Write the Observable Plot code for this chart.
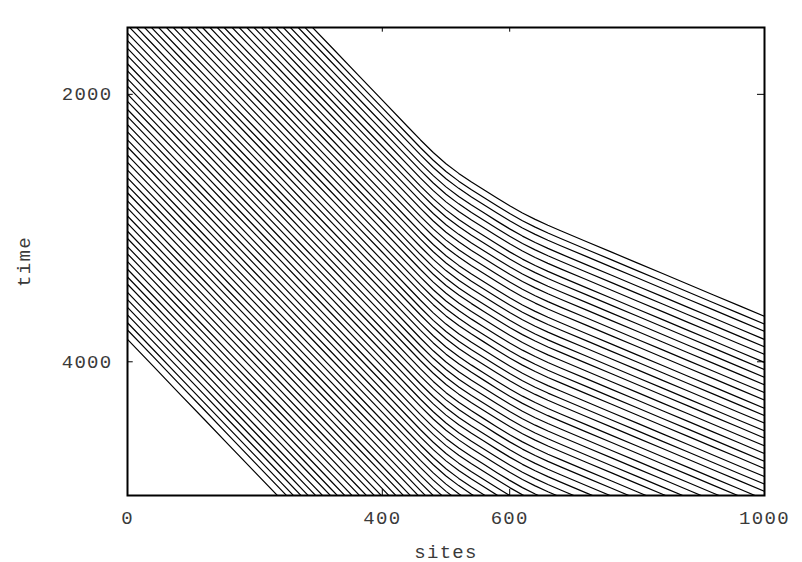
<!DOCTYPE html>
<html>
<head>
<meta charset="utf-8">
<script src="https://cdn.jsdelivr.net/npm/d3@7"></script>
<script src="https://cdn.jsdelivr.net/npm/@observablehq/plot@0.6"></script>
<style>
  html, body { margin: 0; padding: 0; background: #fff; }
  #chart { width: 802px; height: 562px; }
</style>
</head>
<body>
<div id="chart"></div>
<script>
// Leading world line (sites vs time), read from the upper-right edge of the bundle
const leadSites = [0, 40, 80, 120, 160, 200, 240, 280, 320, 360, 400, 440, 460, 480, 500, 520, 540, 560, 580, 600, 620, 640, 660, 680, 720, 760, 800, 840, 880, 920, 960, 1000];
const leadTimes = [59, 257, 456, 654, 853, 1051, 1249, 1448, 1646, 1845, 2043, 2242, 2341, 2435, 2519, 2591, 2655, 2715, 2775, 2833, 2887, 2935, 2979, 3020, 3100, 3180, 3260, 3340, 3420, 3500, 3580, 3660];
// Time lag of each following particle behind the leading one
const lineOffsets = [0, 58, 112, 173, 228, 285, 345, 398, 456, 512, 571, 626, 688, 742, 799, 857, 910, 969, 1026, 1084, 1138, 1199, 1255, 1309, 1370, 1424, 1483, 1539, 1597, 1651, 1712, 1766, 1825, 1880, 1939, 1993, 2054, 2108, 2167, 2222, 2281, 2335, 2396, 2450, 2508, 2565, 2623, 2677, 2738, 2792, 2851, 2906, 2965, 3019, 3080, 3134, 3192, 3249, 3307, 3361, 3422, 3476, 3534, 3590, 3649, 3703, 3774];
const xTickValues = [0, 400, 600, 1000];
const yTickValues = [2000, 4000];

const rows = lineOffsets.flatMap((off, i) =>
  leadSites.map((s, j) => ({line: i, site: s, time: leadTimes[j] + off}))
);

const chart = Plot.plot({
  width: 802,
  height: 562,
  marginLeft: 127,
  marginRight: 38,
  marginTop: 27,
  marginBottom: 67,
  x: {domain: [0, 1000]},
  y: {domain: [1500, 5000], reverse: true},
  style: {fontFamily: "'Liberation Mono', 'DejaVu Sans Mono', monospace", fontSize: "19px", color: "#3a3a3a", background: "#fff", letterSpacing: "1.3px"},
  marks: [
    Plot.line(rows, {x: "site", y: "time", z: "line", stroke: "#000", strokeWidth: 1.2, clip: true}),
    Plot.frame({stroke: "#000", strokeWidth: 2}),
    Plot.ruleX([400, 600], {x: d => d, y1: 1500, y2: 1535, stroke: "#000"}),
    Plot.ruleX([400, 600], {x: d => d, y1: 5000, y2: 4955, stroke: "#000"}),
    Plot.ruleY(yTickValues, {y: d => d, x1: 0, x2: 9, stroke: "#000"}),
    Plot.ruleY(yTickValues, {y: d => d, x1: 1000, x2: 989, stroke: "#000"}),
    Plot.axisX({ticks: xTickValues, tickSize: 0, tickPadding: 15, tickFormat: d => String(d), label: "sites", labelAnchor: "center", labelArrow: "none", labelOffset: 62}),
    Plot.axisY({ticks: yTickValues, tickSize: 0, tickPadding: 15, tickFormat: d => String(d), label: "time", labelAnchor: "center", labelArrow: "none", labelOffset: 111})
  ]
});
document.getElementById("chart").appendChild(chart);
</script>
</body>
</html>
